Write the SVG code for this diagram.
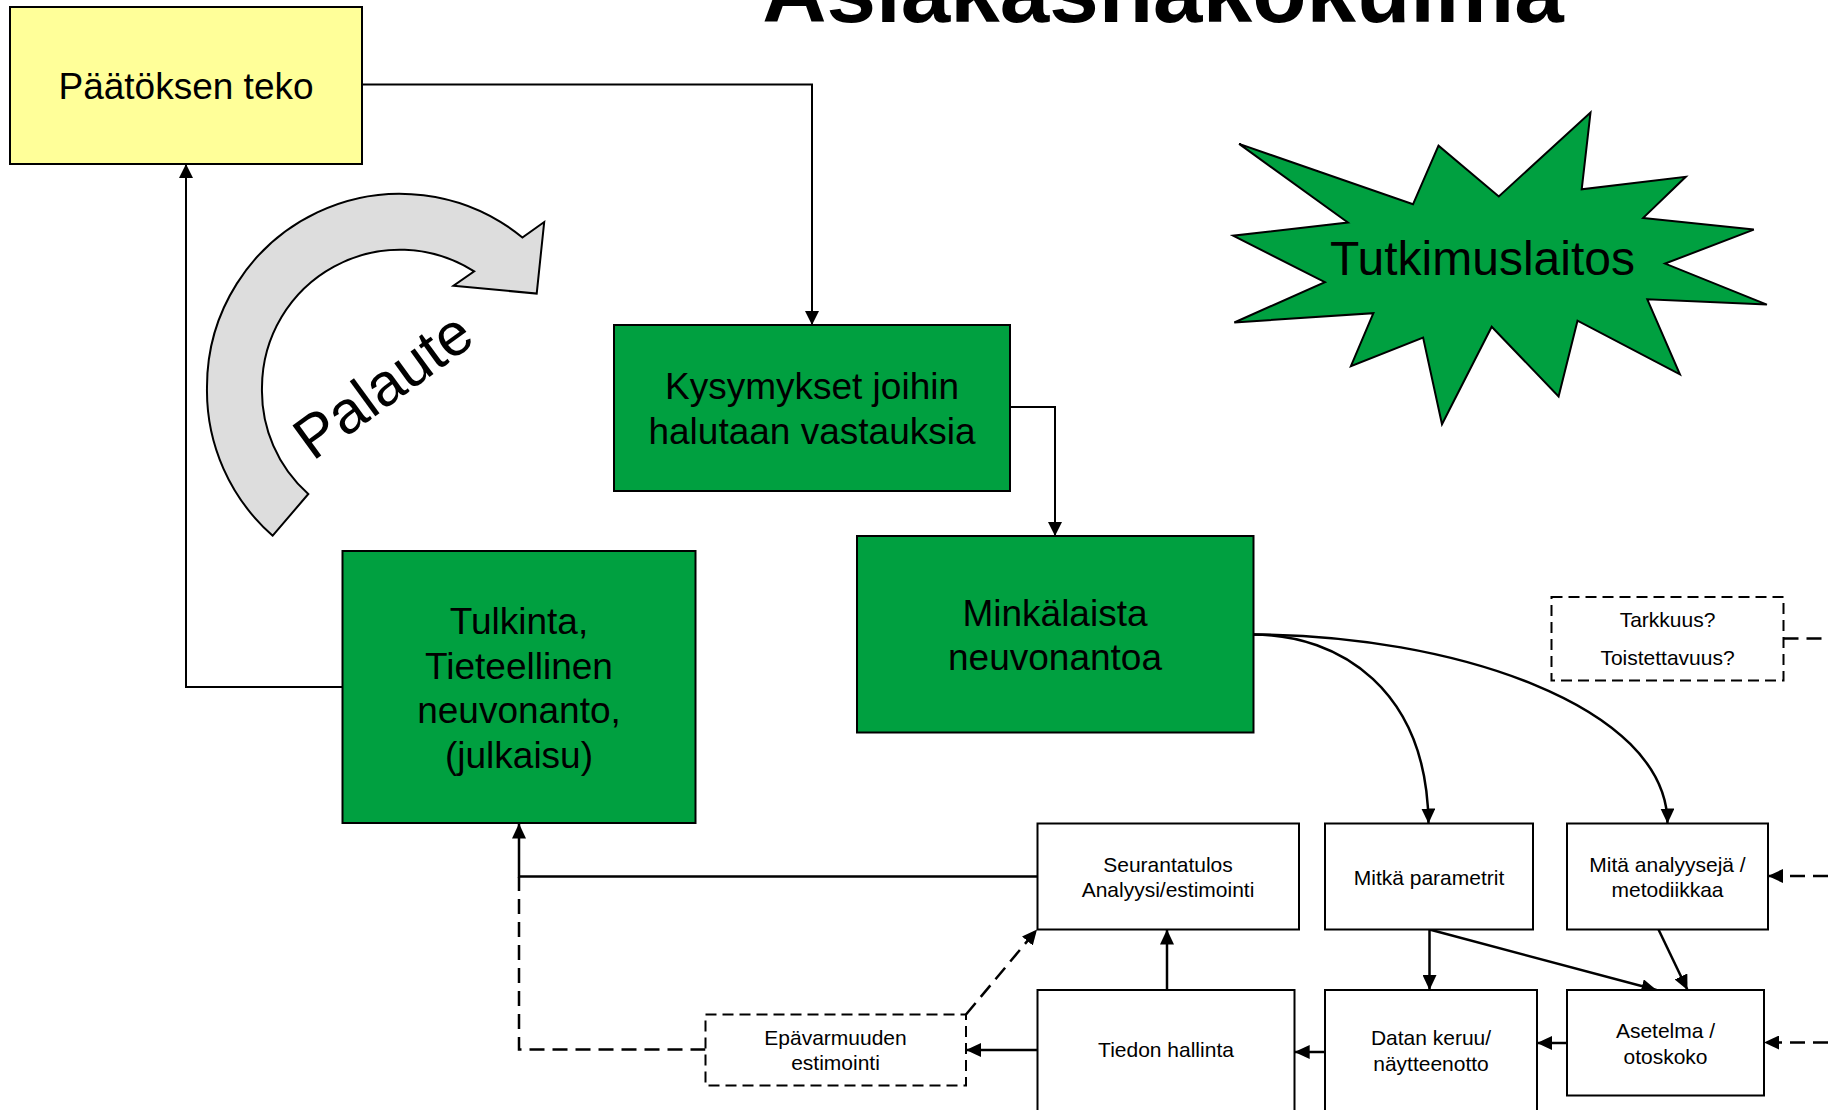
<svg xmlns="http://www.w3.org/2000/svg" width="1828" height="1110" viewBox="0 0 1828 1110">
<defs>
<style>
text{font-family:"Liberation Sans",Arial,sans-serif;fill:#000;text-anchor:middle}
.big{font-size:37px}
.sm{font-size:21px}
.box{fill:#fff;stroke:#000;stroke-width:2}
.green{fill:#00A040;stroke:#000;stroke-width:2}
.dbox{fill:#fff;stroke:#000;stroke-width:2;stroke-dasharray:11 6}
.ln{fill:none;stroke:#000;stroke-width:2}
.ln2{fill:none;stroke:#000;stroke-width:2.5}
.dl{fill:none;stroke:#000;stroke-width:2.5;stroke-dasharray:15 8}
</style>
<marker id="ah" viewBox="0 0 14 14" refX="14" refY="7" markerWidth="14" markerHeight="14" orient="auto" markerUnits="userSpaceOnUse"><path d="M0,0 L14,7 L0,14 z" fill="#000"/></marker>
<marker id="ah2" viewBox="0 0 15 14" refX="15" refY="7" markerWidth="15" markerHeight="14" orient="auto" markerUnits="userSpaceOnUse"><path d="M0,0 L15,7 L0,14 z" fill="#000"/></marker>
</defs>
<rect width="1828" height="1110" fill="#fff"/>

<g id="title"><text x="1163" y="22" style="font-size:89px;font-weight:bold">Asiakasnäkökulma</text></g>

<g id="connectors">
<path class="ln" d="M362,84.5 H812 V325" marker-end="url(#ah)"/>
<path class="ln" d="M342.5,687 H186 V164" marker-end="url(#ah)"/>
<path class="ln" d="M1010,407 H1055 V536" marker-end="url(#ah)"/>
<path class="ln2" d="M1253,634.5 C1340,634.5 1427,690 1428.5,823.5" marker-end="url(#ah2)"/>
<path class="ln2" d="M1253,634.5 C1450,634.5 1667,705 1667.5,823.5" marker-end="url(#ah2)"/>
<path class="ln2" d="M1037.5,876.5 H519 V823.5" marker-end="url(#ah2)"/>
<path class="dl" d="M705.5,1049.5 H519 V877"/>
<path class="ln2" d="M1037.5,1050 H966" marker-end="url(#ah2)"/>
<path class="dl" d="M966,1014.5 L1037,929.5" marker-end="url(#ah2)"/>
<path class="ln2" d="M1167,990 V929.5" marker-end="url(#ah2)"/>
<path class="ln2" d="M1429.5,929.5 V990" marker-end="url(#ah2)"/>
<path class="ln2" d="M1429.5,929.5 L1656.5,990" marker-end="url(#ah2)"/>
<path class="ln2" d="M1658.5,929.5 L1687.5,990" marker-end="url(#ah2)"/>
<path class="ln2" d="M1567,1043 H1537" marker-end="url(#ah2)"/>
<path class="ln2" d="M1325,1052 H1294.7" marker-end="url(#ah2)"/>
<path class="dl" d="M1828,876 H1768" marker-end="url(#ah2)"/>
<path class="dl" d="M1828,1042.5 H1764" marker-end="url(#ah2)"/>
<path class="dl" d="M1783.5,638.5 H1828"/>
</g>

<g id="paatoksen">
<rect x="10" y="7" width="352" height="157" fill="#FFFF99" stroke="#000" stroke-width="2"/>
<text class="big" x="186" y="99">Päätöksen teko</text>
</g>

<g id="palaute">
<path d="M272.7,535.7 A193,193 0 0 1 207,387 A193,193 0 0 1 522.4,237.5 L544.2,222 L536.7,293.6 L453.5,285.7 L474.2,271.4 A138,138 0 0 0 262,387 A138,138 0 0 0 308.3,494 Z" fill="#DDDDDD" stroke="#000" stroke-width="2" stroke-linejoin="miter"/>
<text x="395" y="402" transform="rotate(-36 395 402)" style="font-size:60px">Palaute</text>
</g>

<g id="kysymykset">
<rect class="green" x="614" y="325" width="396" height="166"/>
<text class="big" x="812" y="399">Kysymykset joihin</text>
<text class="big" x="812" y="444">halutaan vastauksia</text>
</g>

<g id="tutkimuslaitos">
<polygon fill="#00A040" stroke="#000" stroke-width="2" points="1239.1,143.9 1413,204.3 1438.5,145.7 1498.8,196.4 1590.5,112.5 1581.7,189.3 1685.8,176.8 1643.2,217.9 1753.8,229.6 1665.1,263.6 1766.9,304.6 1647.3,299.3 1679.9,374.3 1577.5,320.7 1558.6,396.4 1491.7,326.8 1442,424.3 1423.1,337.5 1350.9,366.1 1373.4,313.2 1234.3,322.5 1324.9,282.1 1233.1,235.7 1347.9,222.5"/>
<text x="1482.5" y="275" style="font-size:48px">Tutkimuslaitos</text>
</g>

<g id="minkalaista">
<rect class="green" x="857" y="536" width="396.5" height="196.5"/>
<text class="big" x="1055" y="625.5">Minkälaista</text>
<text class="big" x="1055" y="670">neuvonantoa</text>
</g>

<g id="tulkinta">
<rect class="green" x="342.5" y="551" width="353" height="272"/>
<text class="big" x="519" y="634">Tulkinta,</text>
<text class="big" x="519" y="678.5">Tieteellinen</text>
<text class="big" x="519" y="723">neuvonanto,</text>
<text class="big" x="519" y="767.5">(julkaisu)</text>
</g>

<g id="tarkkuus">
<rect class="dbox" x="1551.5" y="597" width="232" height="83.5"/>
<text class="sm" x="1667.5" y="626.5">Tarkkuus?</text>
<text class="sm" x="1667.5" y="665">Toistettavuus?</text>
</g>

<g id="seurantatulos">
<rect class="box" x="1037.5" y="823.5" width="261.5" height="106"/>
<text class="sm" x="1168" y="871.5">Seurantatulos</text>
<text class="sm" x="1168" y="897">Analyysi/estimointi</text>
</g>

<g id="mitka">
<rect class="box" x="1325" y="823.5" width="208" height="106"/>
<text class="sm" x="1429" y="885">Mitkä parametrit</text>
</g>

<g id="mita">
<rect class="box" x="1567" y="823.5" width="201" height="106"/>
<text class="sm" x="1667.5" y="871.5">Mitä analyysejä /</text>
<text class="sm" x="1667.5" y="897">metodiikkaa</text>
</g>

<g id="tiedon">
<rect class="box" x="1037.5" y="990" width="257" height="135"/>
<text class="sm" x="1166" y="1056.5">Tiedon hallinta</text>
</g>

<g id="datan">
<rect class="box" x="1325" y="990" width="212" height="135"/>
<text class="sm" x="1431" y="1045">Datan keruu/</text>
<text class="sm" x="1431" y="1070.5">näytteenotto</text>
</g>

<g id="asetelma">
<rect class="box" x="1567" y="990" width="197" height="105.5"/>
<text class="sm" x="1665.5" y="1038">Asetelma /</text>
<text class="sm" x="1665.5" y="1063.5">otoskoko</text>
</g>

<g id="epavarmuuden">
<rect class="dbox" x="705.5" y="1014.5" width="260.5" height="71"/>
<text class="sm" x="835.5" y="1045">Epävarmuuden</text>
<text class="sm" x="835.5" y="1070">estimointi</text>
</g>
</svg>
